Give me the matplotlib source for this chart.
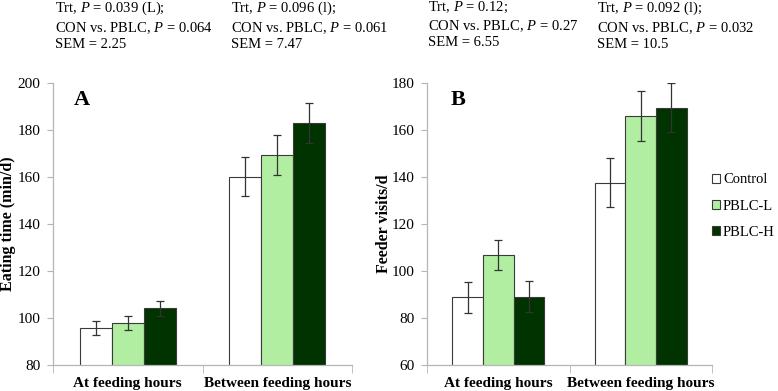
import matplotlib
matplotlib.use("Agg")
import matplotlib.pyplot as plt
import numpy as np

plt.rcParams['font.family'] = 'Liberation Serif'
plt.rcParams['mathtext.fontset'] = 'custom'
plt.rcParams['mathtext.rm'] = 'Liberation Serif'
plt.rcParams['mathtext.it'] = 'Liberation Serif:italic'

# data
groups = ['Control', 'PBLC-L', 'PBLC-H']
colors = ['white', '#b2eea2', '#003300']
categories = ['At feeding hours', 'Between feeding hours']

eat_mean = {'Control': [95.6, 160.0], 'PBLC-L': [97.7, 169.3], 'PBLC-H': [104.0, 182.7]}
eat_err = {'Control': [2.9, 8.4], 'PBLC-L': [3.0, 8.6], 'PBLC-H': [3.2, 8.5]}
visit_mean = {'Control': [88.6, 137.5], 'PBLC-L': [106.6, 165.8], 'PBLC-H': [89.0, 169.4]}
visit_err = {'Control': [6.5, 10.5], 'PBLC-L': [6.5, 10.5], 'PBLC-H': [6.5, 10.5]}

stats_A = ["Trt, $\\mathit{P}$ = 0.039 (L);\nCON vs. PBLC, $\\mathit{P}$ = 0.064\nSEM = 2.25",
           "Trt, $\\mathit{P}$ = 0.096 (l);\nCON vs. PBLC, $\\mathit{P}$ = 0.061\nSEM = 7.47"]
stats_B = ["Trt, $\\mathit{P}$ = 0.12;\nCON vs. PBLC, $\\mathit{P}$ = 0.27\nSEM = 6.55",
           "Trt, $\\mathit{P}$ = 0.092 (l);\nCON vs. PBLC, $\\mathit{P}$ = 0.032\nSEM = 10.5"]

W, H = 778, 391
fig = plt.figure(figsize=(W / 100, H / 100), dpi=100)
axA = fig.add_axes([53 / W, 1 - 364.7 / H, (352 - 53) / W, (364.7 - 82.7) / H])
axB = fig.add_axes([427 / W, 1 - 364.7 / H, (712 - 427) / W, (364.7 - 82.7) / H])

x = np.arange(len(categories))
width = 0.215
spine_col = '#b5b5b5'


def draw_panel(ax, means, errs, ylim, ylabel, letter, ylab_x, letter_x):
    for i, g in enumerate(groups):
        ax.bar(x + (i - 1) * width, means[g], width, color=colors[i],
               edgecolor='#3a3a3a', linewidth=0.8, label=g, zorder=2)
        ax.errorbar(x + (i - 1) * width, means[g], yerr=errs[g], fmt='none',
                    ecolor='#333333', elinewidth=0.9, capsize=3, capthick=0.9, zorder=3)
    ax.set_ylim(*ylim)
    ax.set_yticks(np.arange(ylim[0], ylim[1] + 1, 20))
    ax.set_xlim(-0.5, 1.5)
    ax.set_xticks(x)
    ax.set_xticklabels(categories, fontsize=11, fontweight='bold')
    ax.set_xticks([-0.5, 0.5, 1.5], minor=True)
    ax.tick_params(axis='x', which='major', length=0, pad=8.5)
    ax.tick_params(axis='x', which='minor', length=6, color=spine_col, direction='out')
    ax.tick_params(axis='y', length=4, color=spine_col, labelsize=11, pad=5)
    for s in ['top', 'right']:
        ax.spines[s].set_visible(False)
    for s in ['left', 'bottom']:
        ax.spines[s].set_color(spine_col)
        ax.spines[s].set_linewidth(0.9)
    ax.set_ylabel(ylabel, fontsize=11.5, fontweight='bold')
    ax.yaxis.set_label_coords(ylab_x, 0.5)
    ax.text(letter_x, 0.94, letter, transform=ax.transAxes, fontsize=16,
            fontweight='bold', ha='center', va='center')


draw_panel(axA, eat_mean, eat_err, (80, 200), 'Eating time (min/d)', 'A',
           (16 - 53) / 299, (82 - 53) / 299)
draw_panel(axB, visit_mean, visit_err, (60, 180), 'Feeder visits/d', 'B',
           (392 - 427) / 285, (458 - 427) / 285)

# stats text above the panels
for xpix, txt in zip([55, 231, 428, 597], stats_A + stats_B):
    fig.text(xpix / W, 1 - 0 / H, txt, fontsize=10.5, ha='left', va='top',
             linespacing=1.25)

leg = axB.legend(loc='center left', bbox_to_anchor=(1.0, 1 - (206 - 82.7) / 282),
                 frameon=False, fontsize=10.5, handlelength=0.55, handleheight=0.55,
                 handletextpad=0.2, labelspacing=0.9, borderaxespad=0, borderpad=0)

plt.savefig('out.png', dpi=100)
